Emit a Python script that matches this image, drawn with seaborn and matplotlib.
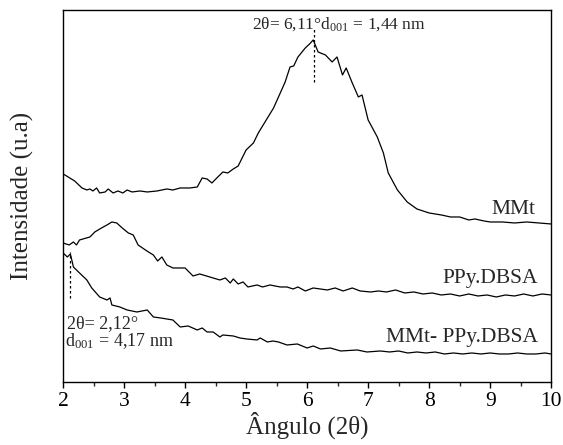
import numpy as np
import pandas as pd
import matplotlib
matplotlib.use('Agg')
import matplotlib.pyplot as plt
from matplotlib.ticker import MultipleLocator
import seaborn as sns

# XRD patterns (intensity in arbitrary units)
mmt_x = [2.00, 2.03, 2.11, 2.19, 2.31, 2.39, 2.44, 2.49, 2.55, 2.60, 2.69, 2.74,
         2.82, 2.90, 2.98, 3.05, 3.13, 3.26, 3.38, 3.54, 3.70, 3.80, 3.92, 4.08,
         4.20, 4.28, 4.36, 4.44, 4.52, 4.62, 4.70, 4.79, 4.87, 5.00, 5.12, 5.20,
         5.31, 5.45, 5.56, 5.64, 5.72, 5.78, 5.85, 5.97, 6.04, 6.10, 6.18, 6.30,
         6.41, 6.49, 6.58, 6.64, 6.74, 6.84, 6.90, 7.00, 7.15, 7.25, 7.33, 7.48,
         7.64, 7.80, 7.90, 8.00, 8.10, 8.20, 8.35, 8.50, 8.65, 8.75, 8.90, 9.00,
         9.20, 9.40, 9.60, 9.80, 10.00]
mmt_y = [226, 225, 222, 219, 212, 210, 211, 209, 212, 207, 208, 211,
         207, 209, 207, 210, 208, 209, 208, 209, 211, 210, 212, 212,
         213, 222, 221, 217, 222, 228, 227, 231, 234, 250, 257, 267,
         278, 292, 307, 318, 333, 334, 343, 352, 356, 360, 348, 345,
         338, 343, 325, 332, 317, 303, 305, 280, 263, 247, 227, 210,
         198, 191, 189, 187, 186, 185, 183, 183, 180, 181, 179, 178,
         178, 177, 178, 177, 176]

ppy_x = [2.00, 2.10, 2.17, 2.22, 2.27, 2.44, 2.52, 2.63, 2.72, 2.80, 2.88, 2.97,
         3.07, 3.15, 3.23, 3.35, 3.40, 3.48, 3.55, 3.62, 3.70, 3.80, 3.91, 4.00,
         4.13, 4.24, 4.46, 4.57, 4.66, 4.74, 4.79, 4.87, 4.95, 5.03, 5.18, 5.27,
         5.39, 5.56, 5.67, 5.77, 5.85, 5.97, 6.10, 6.33, 6.46, 6.59, 6.74, 6.87,
         7.04, 7.17, 7.30, 7.45, 7.60, 7.75, 7.90, 8.05, 8.20, 8.35, 8.50, 8.65,
         8.80, 8.95, 9.10, 9.25, 9.40, 9.55, 9.70, 9.85, 10.00]
ppy_y = [157, 155, 158, 155, 160, 163, 168, 172, 175, 178, 177, 172,
         167, 165, 155, 150, 148, 145, 139, 143, 135, 132, 132, 132,
         124, 126, 122, 120, 122, 117, 121, 116, 118, 113, 115, 113,
         115, 113, 113, 111, 113, 109, 112, 110, 112, 109, 112, 109,
         108, 109, 108, 110, 107, 108, 106, 107, 105, 106, 104, 106,
         104, 105, 103, 105, 104, 106, 104, 106, 105]

mix_x = [2.00, 2.07, 2.12, 2.17, 2.27, 2.39, 2.47, 2.60, 2.72, 2.77, 2.80, 2.93,
         3.05, 3.21, 3.38, 3.48, 3.60, 3.80, 3.92, 4.05, 4.20, 4.28, 4.36, 4.46,
         4.57, 4.62, 4.79, 4.90, 5.01, 5.18, 5.23, 5.35, 5.44, 5.53, 5.67, 5.84,
         6.00, 6.10, 6.22, 6.38, 6.55, 6.82, 6.98, 7.20, 7.35, 7.50, 7.65, 7.80,
         7.95, 8.10, 8.25, 8.40, 8.55, 8.70, 8.85, 9.00, 9.15, 9.30, 9.45, 9.60,
         9.75, 9.90, 10.00]
mix_y = [147, 143, 146, 133, 127, 120, 112, 103, 100, 102, 95, 93,
         90, 88, 90, 83, 82, 80, 73, 74, 70, 72, 68, 68,
         63, 65, 64, 62, 61, 60, 62, 58, 59, 58, 55, 56,
         52, 54, 51, 52, 49, 50, 48, 49, 48, 49, 47, 48,
         47, 48, 46, 47, 46, 47, 46, 47, 46, 46, 47, 46,
         46, 47, 46]

df = pd.concat([
    pd.DataFrame({'angle': mmt_x, 'intensity': mmt_y, 'sample': 'MMt'}),
    pd.DataFrame({'angle': ppy_x, 'intensity': ppy_y, 'sample': 'PPy.DBSA'}),
    pd.DataFrame({'angle': mix_x, 'intensity': mix_y, 'sample': 'MMt- PPy.DBSA'}),
])

sns.set_style('ticks')
plt.rcParams['font.family'] = ['Liberation Serif', 'DejaVu Serif']
plt.rcParams['mathtext.fontset'] = 'stix'

fig = plt.figure(figsize=(5.63, 4.45), dpi=100)
ax = fig.add_axes([0.112, 0.1416, 0.867, 0.836])

sns.lineplot(data=df, x='angle', y='intensity', units='sample', estimator=None,
             sort=False, color='black', lw=0.9, ax=ax, legend=False)

# peak markers
ax.plot([6.11, 6.11], [318, 373], ls=(0, (2, 2)), color='black', lw=0.9)
ax.plot([2.12, 2.12], [102, 148], ls=(0, (2, 2)), color='black', lw=0.9)

ax.text(6.52, 371, '2θ= 6,11°d$_{\\mathregular{001}}$ = 1,44 nm', ha='center',
        va='baseline', fontsize=12.5)
ax.text(2.06, 72, '2θ= 2,12°', ha='left', va='baseline', fontsize=13)
ax.text(2.03, 54, 'd$_{\\mathregular{001}}$ = 4,17 nm', ha='left', va='baseline', fontsize=13)

ax.text(9.75, 186, 'MMt', ha='right', va='baseline', fontsize=15.5)
ax.text(9.78, 117, 'PPy.DBSA', ha='right', va='baseline', fontsize=15.5)
ax.text(9.78, 58, 'MMt- PPy.DBSA', ha='right', va='baseline', fontsize=15.5)

ax.set_xlim(2, 10)
ax.set_ylim(18, 390)
ax.xaxis.set_major_locator(MultipleLocator(1))
ax.xaxis.set_minor_locator(MultipleLocator(0.5))
ax.tick_params(axis='x', which='major', direction='out', length=4.5, width=1,
               pad=3, labelsize=15.5, colors='black')
ax.tick_params(axis='x', which='minor', direction='out', length=3, width=1)
ax.set_yticks([])
for s in ax.spines.values():
    s.set_visible(True)
    s.set_linewidth(1)
    s.set_color('black')

ax.set_xlabel('Ângulo (2θ)', fontsize=18, labelpad=0)
ax.set_ylabel('Intensidade (u.a)', fontsize=18, labelpad=21)

fig.savefig('out.png', dpi=100)
